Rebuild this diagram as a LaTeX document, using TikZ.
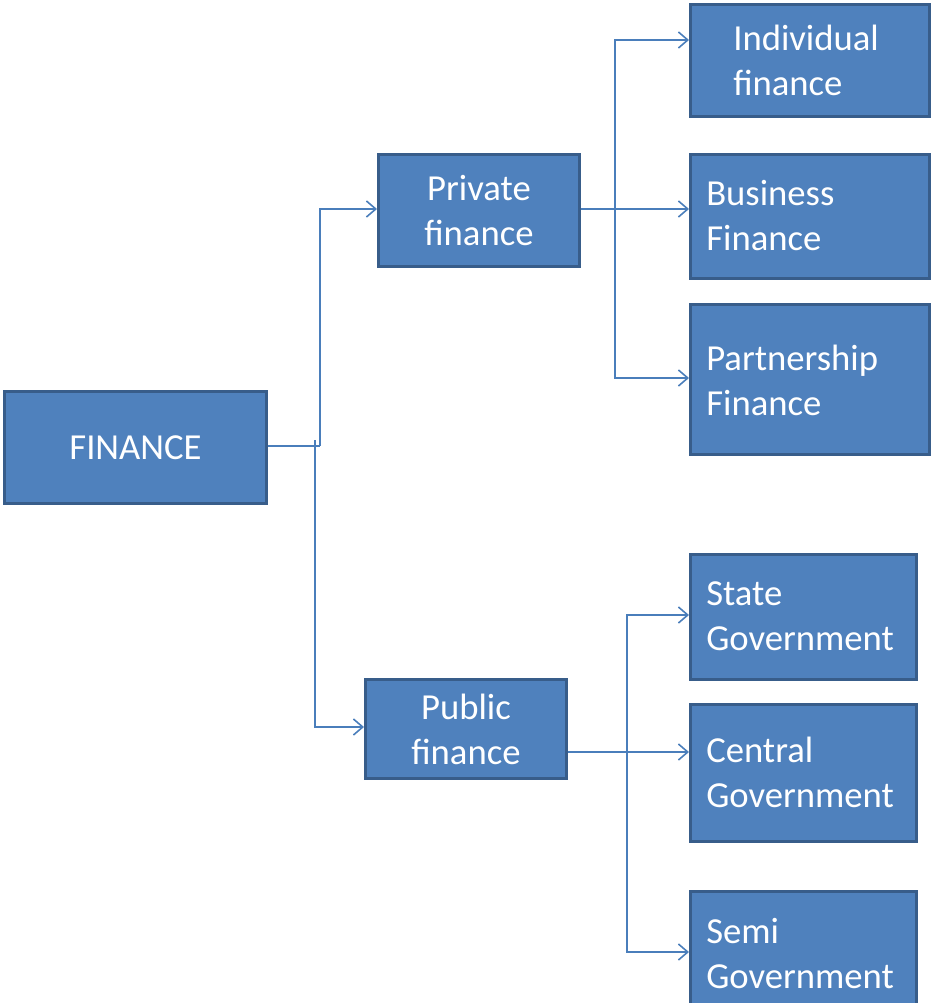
\documentclass[tikz,border=0pt]{standalone}
\usepackage{fontspec}
\setmainfont{Carlito}
\usetikzlibrary{arrows.meta}
\begin{document}
\begin{tikzpicture}[x=0.75pt,y=-0.75pt,
  box/.style={draw=boxborder,fill=boxfill,line width=2.2pt,inner sep=0pt},
  lbl/.style={text=white,font=\fontsize{27.5}{33.75}\selectfont,inner sep=0pt},
  conn/.style={draw=conncol,line width=1.2pt},
  arr/.style={conn,-{Straight Barb[length=7pt,width=12pt]}}]
\definecolor{boxfill}{HTML}{4F81BD}
\definecolor{boxborder}{HTML}{385D8A}
\definecolor{conncol}{HTML}{4A7EBB}
\useasboundingbox (0,0) rectangle (931,1003);
\begin{scope}
\clip (0,0) rectangle (931,1003);
\newcommand\bx[5]{\node[box,minimum width={(#4-#2)*0.75pt},minimum height={(#5-#3)*0.75pt},anchor=north west] (#1) at (#2,#3) {};}
\bx{fin}{3}{390}{265}{502}
\bx{priv}{377}{153}{578}{265}
\bx{pub}{364}{678}{565}{777}
\bx{ind}{689}{3}{928}{115}
\bx{bus}{689}{153}{928}{277}
\bx{par}{689}{303}{928}{453}
\bx{sta}{689}{553}{915}{678}
\bx{cen}{689}{703}{915}{840}
\bx{sem}{689}{890}{915}{1015}
\node[lbl] (tfin) at (fin.center) {FINANCE};
\node[lbl,align=center] (tpriv) at (priv.center) {Private\\finance};
\node[lbl,align=center] (tpub) at (pub.center) {Public\\finance};
\node[lbl,align=left,anchor=west] (tind) at (733,60) {Individual\\finance};
\node[lbl,align=left,anchor=west] (tbus) at (706,216) {Business\\Finance};
\node[lbl,align=left,anchor=west] (tpar) at (706,380) {Partnership\\Finance};
\node[lbl,align=left,anchor=west] (tsta) at (706,616) {State\\Government};
\node[lbl,align=left,anchor=west] (tcen) at (706,772) {Central\\Government};
\node[lbl,align=left,anchor=west] (tsem) at (706,954) {Semi\\Government};
\end{scope}
\coordinate (a1) at (320,446);
\coordinate (a2) at (315,440);
\coordinate (b1) at (615,40);
\coordinate (c1) at (627,615);
\draw[conn] (fin.east |- a1) -- (a1);
\draw[arr] (a1) |- (priv.west |- 0,209);
\draw[arr] (a2) |- (pub.west |- 0,727);
\draw[arr] (priv.east |- 0,209) -- (bus.west |- 0,209);
\draw[arr] (615,378) -- (615,40) -- (ind.west |- b1);
\draw[arr] (615,209) -- (615,378) -- (par.west |- 0,378);
\draw[arr] (pub.east |- 0,752) -- (cen.west |- 0,752);
\draw[arr] (627,952) -- (627,615) -- (sta.west |- c1);
\draw[arr] (627,752) -- (627,952) -- (sem.west |- 0,952);
\end{tikzpicture}
\end{document}
